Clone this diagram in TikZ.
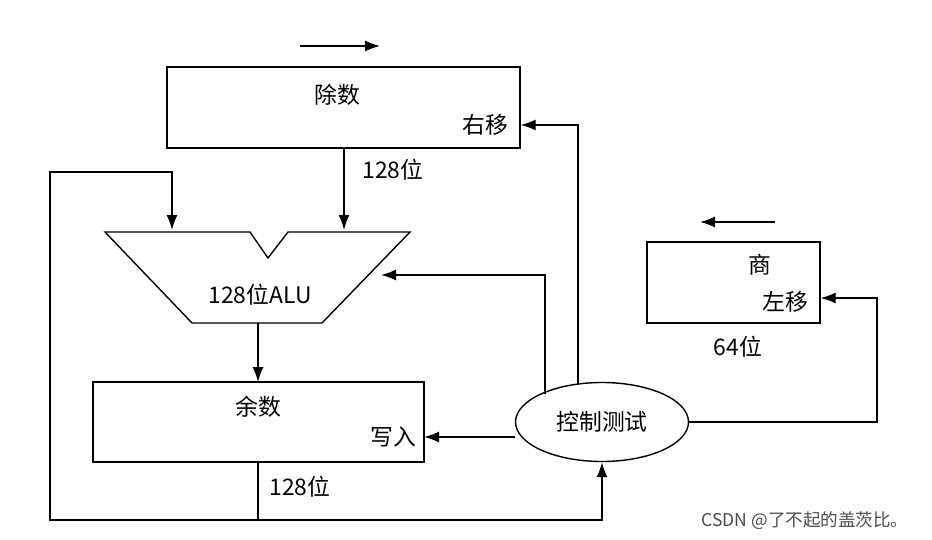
\documentclass[tikz,border=0pt]{standalone}
\usepackage{fontspec}
\setmainfont{Noto Sans CJK SC}
\usetikzlibrary{shapes.geometric,arrows.meta}
\begin{document}
\begin{tikzpicture}[
  x=0.02cm, y=-0.02cm,
  every node/.style={font=\fontsize{13}{15}\selectfont},
  reg/.style={draw, thick, rectangle, inner sep=0pt},
  wire/.style={draw, thick, -{Latex[length=3mm,width=2.2mm]}},
  line/.style={draw, thick}
]
\useasboundingbox (0,0) rectangle (932,540);
% Define the registers
\node[reg, minimum width=353*0.02cm, minimum height=81*0.02cm] (dvs) at (343.5,107.5) {};
\node at (337,95) {除数};
\node (dvsR) at (485,125) {右移};
\node[reg, minimum width=331*0.02cm, minimum height=80*0.02cm] (rem) at (258.5,422) {};
\node at (258,407) {余数};
\node at (393,437) {写入};
\node[reg, minimum width=173*0.02cm, minimum height=81*0.02cm] (quo) at (733.5,282.5) {};
\node at (760,265) {商};
\node at (785,302) {左移};
\node[draw, thick, ellipse, minimum width=173*0.02cm, minimum height=79*0.02cm] (ctl) at (602,422) {控制测试};
% ALU
\draw[thick] (105,232) -- (250,232) -- (268,258) -- (288,232) -- (410,232)
  -- (322,323) -- (192,323) -- cycle;
\node (alu) at (260,295) {128位ALU};
% Labels
\node at (393,170) {128位};
\node at (300,487) {128位};
\node at (738,347) {64位};
\node[text=black!70, font=\fontsize{10}{12}\selectfont] at (805,521) {CSDN @了不起的盖茨比。};
% Shift arrows
\coordinate (sa) at (300,46); \coordinate (sb) at (380,46);
\coordinate (qa) at (775,222); \coordinate (qb) at (700,222);
\draw[wire] (sa) -- (sb);
\draw[wire] (qa) -- (qb);
% Define the edges
\draw[wire] (344,148) -- (344,230);
\draw[wire] (258,323) -- (258,382);
\draw[line] (258,462) -- (258,520);
\draw[wire] (258,520) -- (50,520) -- (50,172) -- (172,172) -- (172,230);
\draw[wire] (258,520) -- (602,520) -- (ctl.south);
\draw[wire] (ctl.west) ++(0,15) -- (424,437);
\draw[wire] (545,394) -- (545,275) -- (381,275);
\draw[wire] (578,385) -- (578,125) -- (dvs.east |- 0,125);
\draw[wire] (ctl.east) -- (877,422) -- (877,298) -- (quo.east |- 0,298);
\end{tikzpicture}
\end{document}
